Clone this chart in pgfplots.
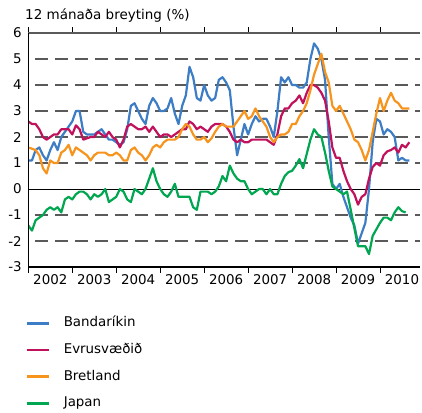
\documentclass[border=0pt]{standalone}
\usepackage{pgfplots}
\pgfplotsset{compat=1.18}
\usepackage{pgfplotstable}
\usepackage{fontspec}
\setmainfont{DejaVu Sans}
\definecolor{cblue}{RGB}{61,125,197}
\definecolor{cred}{RGB}{192,18,92}
\definecolor{corange}{RGB}{247,148,30}
\definecolor{cgreen}{RGB}{0,166,80}
\definecolor{cgrid}{RGB}{90,90,90}
\tikzset{gridline/.style={cgrid, line width=1.3pt, dash pattern=on 13pt off 7pt, dash phase=13pt}}

% monthly values, Jan 2002 onwards
\pgfplotstableread[row sep=\\]{v\\
1.1\\1.1\\1.5\\1.6\\1.3\\1.1\\1.5\\1.8\\1.5\\2.0\\
2.2\\2.4\\2.6\\3.0\\3.0\\2.2\\2.1\\2.1\\2.1\\2.2\\
2.3\\2.1\\1.9\\1.9\\1.8\\1.7\\1.8\\2.3\\3.2\\3.3\\
3.0\\2.7\\2.5\\3.2\\3.5\\3.3\\3.0\\3.0\\3.1\\3.5\\
2.9\\2.5\\3.2\\3.6\\4.7\\4.3\\3.5\\3.4\\4.0\\3.6\\
3.4\\3.5\\4.2\\4.3\\4.1\\3.8\\2.4\\1.3\\1.9\\2.5\\
2.1\\2.5\\2.8\\2.6\\2.7\\2.7\\2.4\\2.0\\3.0\\4.3\\
4.1\\4.3\\4.0\\4.0\\3.9\\3.9\\4.1\\5.0\\5.6\\5.4\\
5.0\\4.2\\2.0\\0.2\\0.0\\0.2\\-0.3\\-0.7\\-1.1\\-1.4\\
-2.1\\-1.7\\-1.3\\0.0\\1.8\\2.7\\2.6\\2.1\\2.3\\2.2\\
2.0\\1.1\\1.2\\1.1\\1.1\\
}\tblBlue

\pgfplotstableread[row sep=\\]{v\\
2.6\\2.5\\2.5\\2.3\\2.0\\1.9\\2.0\\2.1\\2.1\\2.3\\
2.3\\2.3\\2.1\\2.45\\2.3\\1.9\\1.95\\2.0\\2.0\\2.2\\
2.1\\2.0\\2.2\\2.0\\1.9\\1.6\\1.9\\2.4\\2.5\\2.4\\
2.3\\2.3\\2.4\\2.2\\2.4\\2.2\\2.0\\2.1\\2.1\\2.0\\
2.1\\2.2\\2.3\\2.3\\2.6\\2.5\\2.3\\2.4\\2.3\\2.2\\
2.4\\2.5\\2.5\\2.5\\2.4\\2.2\\1.9\\1.8\\1.9\\1.8\\
1.8\\1.9\\1.9\\1.9\\1.9\\1.9\\1.8\\1.7\\2.1\\2.8\\
3.1\\3.1\\3.3\\3.4\\3.6\\3.3\\3.7\\4.0\\4.0\\3.9\\
3.7\\3.4\\2.6\\1.6\\1.2\\1.2\\0.7\\0.3\\0.0\\-0.2\\
-0.6\\-0.3\\-0.2\\0.4\\0.85\\1.0\\0.9\\1.3\\1.45\\1.5\\
1.6\\1.4\\1.7\\1.6\\1.8\\
}\tblRed

\pgfplotstableread[row sep=\\]{v\\
1.6\\1.55\\1.5\\1.3\\0.8\\0.6\\1.1\\1.0\\1.0\\1.4\\
1.5\\1.7\\1.3\\1.6\\1.5\\1.4\\1.3\\1.1\\1.3\\1.4\\
1.4\\1.4\\1.3\\1.3\\1.4\\1.3\\1.1\\1.1\\1.5\\1.6\\
1.4\\1.3\\1.1\\1.3\\1.6\\1.7\\1.6\\1.8\\1.9\\1.9\\
1.9\\2.0\\2.3\\2.5\\2.4\\2.1\\1.9\\1.9\\2.0\\1.8\\
1.95\\2.2\\2.4\\2.5\\2.4\\2.4\\2.4\\2.6\\2.8\\3.0\\
2.7\\2.8\\3.1\\2.8\\2.6\\2.4\\2.0\\1.8\\2.0\\2.1\\
2.1\\2.2\\2.5\\2.5\\2.8\\3.0\\3.3\\3.8\\4.4\\4.8\\
5.2\\4.5\\4.1\\3.2\\3.0\\3.2\\2.9\\2.6\\2.3\\1.9\\
1.8\\1.5\\1.1\\1.5\\2.2\\2.9\\3.5\\3.0\\3.4\\3.7\\
3.4\\3.3\\3.1\\3.1\\3.1\\
}\tblOrange

\pgfplotstableread[row sep=\\]{v\\
-1.4\\-1.6\\-1.2\\-1.1\\-1.0\\-0.8\\-0.7\\-0.8\\-0.7\\-0.9\\
-0.4\\-0.3\\-0.4\\-0.2\\-0.1\\-0.1\\-0.2\\-0.4\\-0.2\\-0.3\\
-0.2\\0.0\\-0.5\\-0.4\\-0.3\\0.0\\-0.1\\-0.4\\-0.5\\0.0\\
-0.1\\-0.2\\0.0\\0.4\\0.8\\0.3\\0.0\\-0.2\\-0.3\\-0.1\\
0.2\\-0.3\\-0.3\\-0.3\\-0.3\\-0.7\\-0.8\\-0.1\\-0.1\\-0.1\\
-0.2\\-0.1\\0.1\\0.5\\0.3\\0.9\\0.6\\0.4\\0.3\\0.3\\
0.0\\-0.2\\-0.1\\0.0\\0.0\\-0.2\\0.0\\-0.2\\-0.2\\0.2\\
0.5\\0.65\\0.7\\0.9\\1.15\\0.8\\1.35\\1.9\\2.3\\2.1\\
2.0\\1.4\\0.7\\0.1\\0.0\\-0.1\\-0.2\\-0.1\\-0.8\\-1.5\\
-2.2\\-2.2\\-2.2\\-2.5\\-1.8\\-1.55\\-1.3\\-1.1\\-1.1\\-1.2\\
-0.9\\-0.7\\-0.85\\-0.9\\
}\tblGreen

\begin{document}
\begin{tikzpicture}
\useasboundingbox (-28.3pt,-144.97pt) rectangle (393.7pt,267.03pt);
\begin{axis}[
  at={(0pt,0pt)}, anchor=south west,
  scale only axis, width=392pt, height=234pt,
  xmin=0, xmax=107, ymin=-3, ymax=6,
  clip mode=individual,
  axis line style={draw=none},
  ytick={-3,...,6},
  yticklabels={-3,-2,-1,0,1,2,3,4,5,6},
  ytick style={draw=none},
  yticklabel style={xshift=-3pt},
  xtick={6,18,...,102},
  xticklabels={2002,2003,2004,2005,2006,2007,2008,2009,2010},
  xtick style={draw=none},
  xticklabel style={yshift=-3.5pt},
  major tick length=0pt,
  extra x ticks={0,12,...,96},
  extra x tick labels={},
  extra x tick style={xtick style={draw=black, line width=1pt}, tick align=outside, major tick length=6pt},
  tick label style={font=\fontsize{13.4}{15}\selectfont},
  legend cell align=left,
  legend image code/.code={\draw[#1, line width=2.6pt] (0pt,0pt) -- (22pt,0pt);},
  legend style={draw=none, fill=none, at={(axis description cs:-0.0084,-0.212)}, anchor=north west,
    inner sep=0pt, row sep=13.9pt, font=\fontsize{13.4}{15}\selectfont,
    nodes={inner sep=0pt, text height=9.8pt, text depth=3pt},
    /tikz/every odd column/.append style={column sep=14pt}},
]
\draw[gridline] (axis cs:0,-2) -- (axis cs:107,-2);
\draw[gridline] (axis cs:0,-1) -- (axis cs:107,-1);
\draw[gridline] (axis cs:0,1) -- (axis cs:107,1);
\draw[gridline] (axis cs:0,2) -- (axis cs:107,2);
\draw[gridline] (axis cs:0,3) -- (axis cs:107,3);
\draw[gridline] (axis cs:0,4) -- (axis cs:107,4);
\draw[gridline] (axis cs:0,5) -- (axis cs:107,5);
\draw[cgrid, line width=1.1pt] (rel axis cs:0,1) -- (rel axis cs:1,1);
\draw[black, line width=0.9pt] (axis cs:0,0) -- (axis cs:107,0);
\addplot[cblue, line width=2.2pt, line join=round] table[x expr=\coordindex, y=v]{\tblBlue};
\addlegendentry{Bandaríkin}
\addplot[cred, line width=2.2pt, line join=round] table[x expr=\coordindex, y=v]{\tblRed};
\addlegendentry{Evrusvæðið}
\addplot[corange, line width=2.2pt, line join=round] table[x expr=\coordindex, y=v]{\tblOrange};
\addlegendentry{Bretland}
\addplot[cgreen, line width=2.2pt, line join=round] table[x expr=\coordindex, y=v]{\tblGreen};
\addlegendentry{Japan}
\draw[black, line width=1.3pt] (rel axis cs:0,1) -- (rel axis cs:0,0) -- (rel axis cs:1,0);
\end{axis}
\node[anchor=base west, inner sep=0pt, font=\fontsize{13.5}{15}\selectfont] at (-3.3pt,247.03pt) {12 mánaða breyting (\%)};
\end{tikzpicture}
\end{document}
